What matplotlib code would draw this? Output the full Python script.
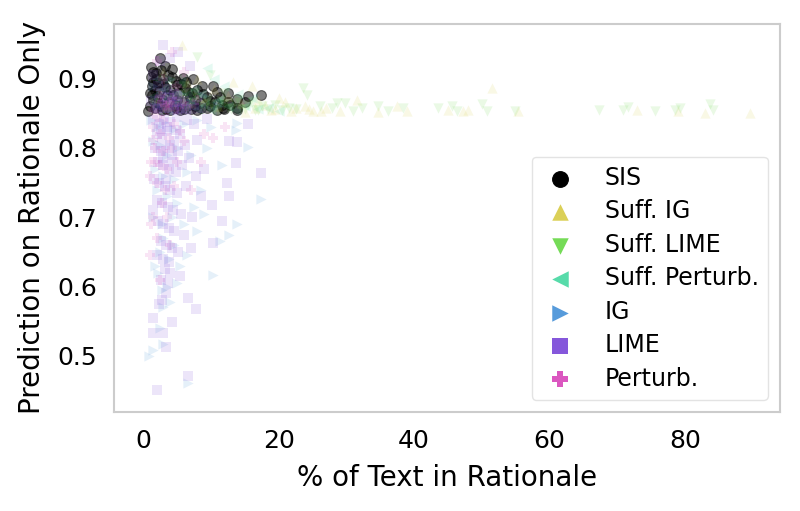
import matplotlib
matplotlib.use("Agg")
import matplotlib.pyplot as plt
import seaborn as sns

# points: (% of text in rationale, prediction on rationale only)
sis_pts = [
    (0.7, 0.854), (1.2, 0.917), (2.5, 0.930), (3.2, 0.919), (4.3, 0.914), (1.5, 0.909),
    (5.9, 0.901), (7.4, 0.900), (8.7, 0.889), (10.3, 0.889), (10.9, 0.881), (12.5, 0.880),
    (13.8, 0.871), (15.5, 0.875), (17.4, 0.877), (15.0, 0.867), (13.8, 0.858), (12.5, 0.867),
    (11.4, 0.874), (9.4, 0.874), (7.7, 0.860), (6.2, 0.887), (4.3, 0.903), (3.0, 0.899),
    (1.8, 0.884), (1.5, 0.870), (1.0, 0.860), (2.2, 0.865), (3.5, 0.877), (5.0, 0.870),
    (5.5, 0.855), (6.9, 0.873), (8.4, 0.865), (9.9, 0.860), (10.9, 0.855), (12.8, 0.862),
    (13.9, 0.855), (2.8, 0.855), (4.0, 0.855), (8.0, 0.855), (2.2, 0.894), (1.0, 0.880),
    (1.5, 0.896), (5.0, 0.891), (4.0, 0.884), (6.6, 0.881), (9.4, 0.858), (11.8, 0.858),
    (4.7, 0.862), (3.0, 0.870), (1.3, 0.890), (2.0, 0.875), (6.0, 0.866), (7.2, 0.880),
    (1.1, 0.902), (1.9, 0.908), (2.7, 0.912), (3.6, 0.906), (4.9, 0.897), (5.6, 0.893),
    (6.4, 0.895), (7.9, 0.884), (8.9, 0.878), (9.8, 0.868), (10.6, 0.866), (11.6, 0.862),
    (1.3, 0.876), (2.4, 0.882), (3.3, 0.888), (4.4, 0.876), (5.3, 0.880), (6.8, 0.862),
    (7.6, 0.870), (8.6, 0.858), (2.6, 0.860), (3.8, 0.866), (4.9, 0.858), (6.1, 0.856),
    (1.7, 0.858), (3.4, 0.857), (7.1, 0.856), (1.9, 0.900), (2.9, 0.892), (12.0, 0.856),
]
suff_ig_pts = [
    (5.8, 0.949), (13.3, 0.896), (16.0, 0.889), (23.9, 0.860), (25.1, 0.853), (31.6, 0.870),
    (34.7, 0.852), (37.5, 0.860), (39.0, 0.853), (45.0, 0.855), (47.2, 0.853), (48.0, 0.855),
    (51.5, 0.886), (55.4, 0.853), (72.9, 0.855), (79.0, 0.853), (82.9, 0.851), (89.6, 0.851),
    (2.0, 0.870), (3.5, 0.860), (5.0, 0.880), (7.0, 0.865), (9.0, 0.870), (11.0, 0.860),
    (12.5, 0.875), (14.5, 0.865), (16.5, 0.858), (18.0, 0.862), (19.5, 0.856), (21.0, 0.866),
    (22.5, 0.858), (20.0, 0.872), (17.0, 0.870), (8.0, 0.900), (10.5, 0.885), (3.0, 0.910),
    (6.5, 0.895), (15.0, 0.852), (27.0, 0.858), (29.0, 0.854), (18.8, 0.855), (21.8, 0.853),
    (24.5, 0.856), (26.2, 0.853),
]
suff_lime_pts = [
    (8.0, 0.932), (9.9, 0.906), (23.6, 0.887), (24.2, 0.877), (26.1, 0.860), (27.9, 0.858),
    (28.6, 0.865), (29.8, 0.865), (31.0, 0.853), (32.3, 0.858), (34.7, 0.860), (36.2, 0.853),
    (38.4, 0.858), (43.5, 0.858), (45.6, 0.860), (46.3, 0.853), (50.0, 0.864), (50.8, 0.853),
    (54.9, 0.853), (67.3, 0.855), (70.8, 0.855), (71.6, 0.859), (75.6, 0.853), (78.5, 0.855),
    (79.3, 0.858), (83.7, 0.864), (84.1, 0.855), (1.5, 0.865), (2.5, 0.880), (3.5, 0.870),
    (4.5, 0.860), (5.5, 0.875), (6.5, 0.858), (7.5, 0.880), (8.5, 0.862), (9.5, 0.870),
    (10.5, 0.857), (11.5, 0.868), (12.5, 0.858), (13.5, 0.865), (14.5, 0.857), (15.5, 0.862),
    (16.5, 0.855), (17.5, 0.860), (18.5, 0.857), (19.5, 0.862), (20.5, 0.855), (21.5, 0.858),
    (4.0, 0.895), (6.0, 0.890), (12.0, 0.880), (7.0, 0.866), (8.0, 0.872), (9.0, 0.858),
    (10.0, 0.864), (11.0, 0.855), (12.0, 0.863), (13.0, 0.856), (14.0, 0.870), (15.0, 0.856),
    (16.0, 0.866), (17.0, 0.855), (22.5, 0.856), (6.2, 0.878), (3.0, 0.858),
]
suff_perturb_pts = [
    (9.4, 0.916), (10.5, 0.900), (12.0, 0.890), (14.0, 0.878), (16.0, 0.872), (2.0, 0.900),
    (3.0, 0.885), (4.0, 0.875), (5.0, 0.865), (6.0, 0.860), (7.0, 0.870), (8.0, 0.857),
    (9.0, 0.862), (10.0, 0.855), (11.0, 0.870), (12.5, 0.860), (13.5, 0.855), (15.0, 0.860),
    (17.0, 0.856), (18.5, 0.858), (20.0, 0.853), (3.5, 0.855), (1.5, 0.875), (5.5, 0.895),
    (7.5, 0.885), (8.5, 0.878), (10.8, 0.866), (6.5, 0.878),
]
ig_pts = [
    (17.4, 0.727), (15.5, 0.802), (13.7, 0.826), (13.9, 0.836), (13.9, 0.690), (12.6, 0.675),
    (11.4, 0.665), (10.3, 0.617), (4.0, 0.577), (2.8, 0.595), (1.5, 0.509), (2.9, 0.517),
    (6.6, 0.460), (11.7, 0.776), (1.2, 0.840), (2.0, 0.830), (3.0, 0.838), (4.5, 0.828),
    (6.0, 0.835), (8.0, 0.840), (10.0, 0.830), (1.5, 0.810), (2.5, 0.805), (3.5, 0.790),
    (5.0, 0.800), (7.0, 0.790), (9.5, 0.800), (1.8, 0.770), (3.0, 0.760), (4.5, 0.755),
    (6.5, 0.765), (8.5, 0.740), (2.0, 0.740), (3.5, 0.730), (5.0, 0.720), (7.5, 0.715),
    (9.0, 0.705), (1.5, 0.700), (2.8, 0.690), (4.2, 0.700), (6.0, 0.690), (8.0, 0.680),
    (3.0, 0.670), (4.5, 0.660), (6.5, 0.645), (2.5, 0.650), (3.8, 0.640), (5.5, 0.630),
    (2.2, 0.620), (3.5, 0.600), (5.0, 0.605), (3.0, 0.570), (2.5, 0.540), (0.8, 0.500),
    (1.8, 0.630), (2.0, 0.860), (3.5, 0.870), (5.5, 0.880), (1.5, 0.890), (7.0, 0.865),
    (4.0, 0.900), (9.0, 0.875), (11.0, 0.860),
]
lime_pts = [
    (3.0, 0.949), (5.2, 0.939), (6.9, 0.919), (2.5, 0.925), (4.0, 0.930), (1.5, 0.905),
    (2.2, 0.890), (3.5, 0.885), (5.0, 0.875), (6.0, 0.868), (2.8, 0.862), (3.8, 0.858),
    (4.5, 0.855), (1.8, 0.858), (2.4, 0.870), (5.8, 0.856), (7.5, 0.862), (3.2, 0.874),
    (4.2, 0.866), (8.5, 0.858), (1.2, 0.868), (1.5, 0.840), (2.3, 0.835), (3.1, 0.842),
    (4.0, 0.838), (5.0, 0.845), (6.5, 0.840), (7.5, 0.835), (9.5, 0.842), (12.6, 0.810),
    (13.8, 0.808), (15.5, 0.834), (13.7, 0.779), (12.4, 0.750), (12.6, 0.730), (11.7, 0.694),
    (10.3, 0.663), (10.2, 0.718), (17.4, 0.764), (2.0, 0.820), (2.8, 0.815), (3.5, 0.825),
    (4.5, 0.810), (5.5, 0.820), (6.2, 0.805), (8.0, 0.812), (1.8, 0.800), (2.6, 0.795),
    (3.3, 0.800), (4.2, 0.790), (5.2, 0.795), (6.8, 0.785), (2.2, 0.780), (3.0, 0.775),
    (3.8, 0.770), (4.8, 0.765), (5.8, 0.775), (7.8, 0.760), (9.0, 0.770), (1.6, 0.755),
    (2.4, 0.750), (3.2, 0.745), (4.0, 0.740), (5.0, 0.735), (6.4, 0.745), (8.5, 0.730),
    (2.0, 0.725), (2.8, 0.720), (3.6, 0.715), (4.4, 0.710), (5.6, 0.705), (1.4, 0.710),
    (7.2, 0.700), (2.2, 0.695), (3.0, 0.690), (3.8, 0.685), (4.6, 0.680), (6.0, 0.675),
    (2.6, 0.665), (3.4, 0.660), (4.2, 0.655), (5.2, 0.650), (2.0, 0.645), (3.0, 0.640),
    (3.8, 0.635), (7.0, 0.655), (3.2, 0.625), (4.0, 0.620), (5.5, 0.615), (2.6, 0.610),
    (3.6, 0.605), (6.6, 0.583), (2.8, 0.581), (3.4, 0.590), (7.8, 0.568), (1.5, 0.555),
    (4.3, 0.549), (2.9, 0.533), (1.5, 0.533), (3.4, 0.512), (6.6, 0.471), (2.0, 0.450),
    (2.4, 0.575), (3.1, 0.858), (4.6, 0.862), (5.4, 0.858), (6.4, 0.855), (2.2, 0.856),
    (3.9, 0.872), (5.0, 0.866), (7.0, 0.857), (2.7, 0.880), (4.5, 0.878), (3.5, 0.830),
    (4.8, 0.826), (2.6, 0.828), (3.9, 0.805), (3.0, 0.785), (4.4, 0.780), (3.4, 0.755),
]
perturb_pts = [
    (4.3, 0.939), (2.0, 0.925), (6.0, 0.910), (3.0, 0.900), (5.0, 0.890), (2.5, 0.875),
    (4.0, 0.865), (6.5, 0.860), (3.5, 0.855), (8.0, 0.870), (1.5, 0.855), (2.0, 0.845),
    (3.0, 0.840), (4.5, 0.835), (1.5, 0.830), (2.5, 0.820), (3.8, 0.815), (5.5, 0.825),
    (1.8, 0.800), (3.0, 0.795), (4.2, 0.800), (6.0, 0.810), (1.2, 0.780), (2.5, 0.775),
    (3.5, 0.770), (5.0, 0.780), (1.0, 0.760), (2.0, 0.750), (3.2, 0.740), (4.5, 0.745),
    (8.5, 0.780), (2.8, 0.720), (1.2, 0.690), (3.5, 0.700), (2.0, 0.670), (4.0, 0.660),
    (1.0, 0.645), (2.5, 0.610), (7.0, 0.740), (9.0, 0.820), (1.5, 0.812), (10.3, 0.815),
    (12.1, 0.830), (1.8, 0.780), (1.5, 0.700), (3.2, 0.860), (4.8, 0.857), (5.8, 0.864),
    (2.8, 0.866), (4.2, 0.872), (3.6, 0.862),
]

methods = ["SIS", "Suff. IG", "Suff. LIME", "Suff. Perturb.", "IG", "LIME", "Perturb."]
series = [sis_pts, suff_ig_pts, suff_lime_pts, suff_perturb_pts, ig_pts, lime_pts, perturb_pts]
markers = ["o", "^", "v", "<", ">", "s", "P"]

sns.set_style("white")
pal = sns.color_palette("hls", 7)
colors = ["black"] + list(pal[1:])
plt.rcParams["text.color"] = "black"
plt.rcParams["axes.labelcolor"] = "black"

fig = plt.figure(figsize=(8, 5.11), dpi=100)
ax = fig.add_axes([0.1425, 0.194, 0.8325, 0.759])

for name, pts, m, c in zip(methods, series, markers, colors):
    xs = [p[0] for p in pts]
    ys = [p[1] for p in pts]
    if name == "SIS":
        ax.scatter(xs, ys, marker=m, s=50, color=c, alpha=0.5, edgecolors="black",
                   linewidths=0.8, label=name, zorder=2)
    else:
        ax.scatter(xs, ys, marker=m, s=55, color=c, alpha=0.15, linewidths=0,
                   label=name, zorder=3)

ax.set_xlim(-4.3, 94)
ax.set_ylim(0.419, 0.979)
ax.set_xticks([0, 20, 40, 60, 80])
ax.set_yticks([0.5, 0.6, 0.7, 0.8, 0.9])
ax.tick_params(labelsize=18, length=0, pad=12, labelcolor="black")
ax.set_xlabel("% of Text in Rationale", fontsize=20, labelpad=8)
ax.set_ylabel("Prediction on Rationale Only", fontsize=20, labelpad=8)
for sp in ax.spines.values():
    sp.set_color("#cccccc")
    sp.set_linewidth(1.5)

leg = ax.legend(loc="lower right", fontsize=17, markerscale=1.6, frameon=True,
                handletextpad=1.1, handlelength=1.6, borderpad=0.4,
                labelspacing=0.4, borderaxespad=0.5)
leg.get_frame().set_edgecolor("#dddddd")
for h in leg.legend_handles:
    h.set_alpha(1)

fig.savefig("out.png", dpi=100)
